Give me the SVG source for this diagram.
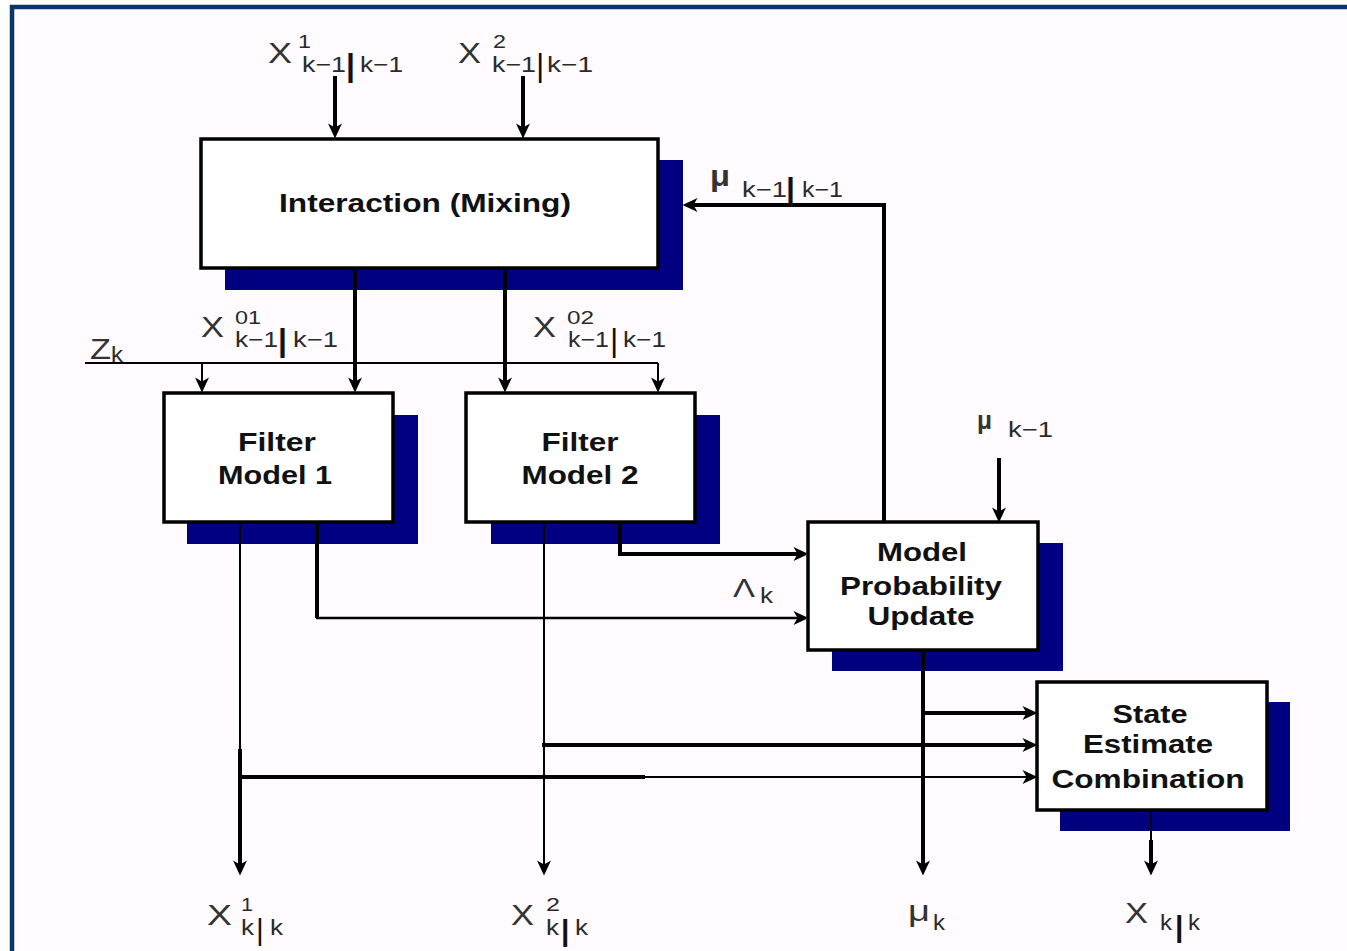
<svg xmlns="http://www.w3.org/2000/svg" width="1347" height="951" viewBox="0 0 1347 951">
<style>
.shadow{fill:#000080}
.box{fill:#ffffff;stroke:#000;stroke-width:3.5}
.lbl{font-family:"Liberation Sans",Arial,sans-serif;font-weight:bold;font-size:25px;fill:#111;text-anchor:middle}
.m{font-family:"Liberation Sans",Arial,sans-serif;font-size:30px;fill:#333}
.s{font-family:"Liberation Sans",Arial,sans-serif;font-size:22px;fill:#2a2a2a}
.sp{font-family:"Liberation Sans",Arial,sans-serif;font-size:19px;fill:#2a2a2a}
.bar{font-family:"Liberation Sans",Arial,sans-serif;font-size:32px;fill:#111}
.bb{font-weight:bold}
.thick{fill:none;stroke:#000;stroke-width:4}
.thin{fill:none;stroke:#000;stroke-width:2}
</style>
<defs>
<marker id="ah" markerUnits="userSpaceOnUse" viewBox="0 0 16 16" markerWidth="16" markerHeight="16" refX="11" refY="8" orient="auto">
<path d="M0.5,1 L15.5,8 L0.5,15 L4.5,8 z" fill="#000"/>
</marker>
</defs>
<rect x="0" y="0" width="1347" height="951" fill="#ffffff"/>
<rect x="12" y="7" width="1400" height="1000" fill="#fffbff" stroke="#0b3567" stroke-width="4.5"/>

<g id="interaction">
<rect class="shadow" x="225" y="160" width="458" height="130"/>
<rect class="box" x="201" y="139" width="457" height="129"/>
<text class="lbl" x="425" y="212" textLength="292" lengthAdjust="spacingAndGlyphs">Interaction (Mixing)</text>
</g>
<g id="filter1">
<rect class="shadow" x="187" y="415" width="231" height="129"/>
<rect class="box" x="164" y="393" width="229" height="129"/>
<text class="lbl" x="277" y="451" textLength="78" lengthAdjust="spacingAndGlyphs">Filter</text>
<text class="lbl" x="275" y="484" textLength="114" lengthAdjust="spacingAndGlyphs">Model 1</text>
</g>
<g id="filter2">
<rect class="shadow" x="491" y="415" width="229" height="129"/>
<rect class="box" x="466" y="393" width="229" height="129"/>
<text class="lbl" x="580" y="451" textLength="77" lengthAdjust="spacingAndGlyphs">Filter</text>
<text class="lbl" x="580" y="484" textLength="117" lengthAdjust="spacingAndGlyphs">Model 2</text>
</g>
<g id="mpu">
<rect class="shadow" x="832" y="543" width="231" height="128"/>
<rect class="box" x="808" y="522" width="230" height="128"/>
<text class="lbl" x="922" y="561" textLength="90" lengthAdjust="spacingAndGlyphs">Model</text>
<text class="lbl" x="921" y="595" textLength="162" lengthAdjust="spacingAndGlyphs">Probability</text>
<text class="lbl" x="921" y="625" textLength="107" lengthAdjust="spacingAndGlyphs">Update</text>
</g>
<g id="sec">
<rect class="shadow" x="1060" y="702" width="230" height="129"/>
<rect class="box" x="1037" y="682" width="230" height="128"/>
<text class="lbl" x="1150" y="723" textLength="75" lengthAdjust="spacingAndGlyphs">State</text>
<text class="lbl" x="1148" y="753" textLength="130" lengthAdjust="spacingAndGlyphs">Estimate</text>
<text class="lbl" x="1148" y="788" textLength="193" lengthAdjust="spacingAndGlyphs">Combination</text>
</g>

<g id="connectors">
<path class="thick" d="M335,76 V134" marker-end="url(#ah)"/>
<path class="thick" d="M523,76 V134" marker-end="url(#ah)"/>
<path class="thick" d="M355,268 V388" marker-end="url(#ah)"/>
<path class="thick" d="M505,268 V388" marker-end="url(#ah)"/>
<path class="thin" d="M85,363 H658"/>
<path class="thin" d="M202,363 V388" marker-end="url(#ah)"/>
<path class="thin" d="M658,363 V388" marker-end="url(#ah)"/>
<path class="thin" d="M240,522 V749"/>
<path class="thick" d="M240,749 V871" marker-end="url(#ah)"/>
<path class="thick" d="M317,522 V618"/>
<path class="thin" d="M316,618 H804" marker-end="url(#ah)" style="stroke-width:2.5"/>
<path class="thin" d="M544,522 V871" marker-end="url(#ah)"/>
<path class="thick" d="M620,522 V554 H804" marker-end="url(#ah)"/>
<path class="thick" d="M884,522 V205 H687" marker-end="url(#ah)"/>
<path class="thick" d="M999,458 V518" marker-end="url(#ah)"/>
<path class="thick" d="M923,650 V871" marker-end="url(#ah)"/>
<path class="thick" d="M923,713 H1033" marker-end="url(#ah)"/>
<path class="thick" d="M542,745 H1033" marker-end="url(#ah)"/>
<path class="thick" d="M240,777 H645"/>
<path class="thin" d="M645,777 H1033" marker-end="url(#ah)"/>
<path class="thin" d="M1151,810 V840"/>
<path class="thick" d="M1151,840 V871" marker-end="url(#ah)"/>
</g>

<g id="labels">
<text class="m" x="268" y="63" textLength="24" lengthAdjust="spacingAndGlyphs">X</text>
<text class="sp" x="298" y="48" textLength="13" lengthAdjust="spacingAndGlyphs">1</text>
<text class="s" x="302" y="72" textLength="44" lengthAdjust="spacingAndGlyphs">k−1</text>
<text class="bar bb" x="346" y="76">|</text>
<text class="s" x="360" y="72" textLength="43" lengthAdjust="spacingAndGlyphs">k−1</text>

<text class="m" x="458" y="63" textLength="23" lengthAdjust="spacingAndGlyphs">X</text>
<text class="sp" x="493" y="48" textLength="13" lengthAdjust="spacingAndGlyphs">2</text>
<text class="s" x="492" y="72" textLength="44" lengthAdjust="spacingAndGlyphs">k−1</text>
<text class="bar" x="536" y="76">|</text>
<text class="s" x="547" y="72" textLength="46" lengthAdjust="spacingAndGlyphs">k−1</text>

<text class="m" x="201" y="337" textLength="23" lengthAdjust="spacingAndGlyphs">X</text>
<text class="sp" x="235" y="324" textLength="26" lengthAdjust="spacingAndGlyphs">01</text>
<text class="s" x="235" y="347" textLength="43" lengthAdjust="spacingAndGlyphs">k−1</text>
<text class="bar bb" x="278" y="351">|</text>
<text class="s" x="293" y="347" textLength="45" lengthAdjust="spacingAndGlyphs">k−1</text>

<text class="m" x="533" y="337" textLength="23" lengthAdjust="spacingAndGlyphs">X</text>
<text class="sp" x="567" y="324" textLength="27" lengthAdjust="spacingAndGlyphs">02</text>
<text class="s" x="568" y="347" textLength="41" lengthAdjust="spacingAndGlyphs">k−1</text>
<text class="bar" x="610" y="351">|</text>
<text class="s" x="623" y="347" textLength="43" lengthAdjust="spacingAndGlyphs">k−1</text>

<text class="m" x="90" y="359" textLength="21" lengthAdjust="spacingAndGlyphs">Z</text>
<text class="s" x="111" y="362" textLength="12" lengthAdjust="spacingAndGlyphs">k</text>

<text class="m" x="733" y="597" style="font-size:25px" textLength="22" lengthAdjust="spacingAndGlyphs">Λ</text>
<text class="s" x="760" y="603" textLength="13" lengthAdjust="spacingAndGlyphs">k</text>

<text class="m bb" x="710" y="186" textLength="20" lengthAdjust="spacingAndGlyphs">μ</text>
<text class="s" x="742" y="197" textLength="45" lengthAdjust="spacingAndGlyphs">k−1</text>
<text class="bar bb" x="786" y="200">|</text>
<text class="s" x="802" y="197" textLength="41" lengthAdjust="spacingAndGlyphs">k−1</text>

<text class="m bb" x="977" y="429" style="font-size:26px" textLength="15" lengthAdjust="spacingAndGlyphs">μ</text>
<text class="s" x="1008" y="437" textLength="45" lengthAdjust="spacingAndGlyphs">k−1</text>

<text class="m" x="207" y="925" textLength="25" lengthAdjust="spacingAndGlyphs">X</text>
<text class="sp" x="241" y="911" textLength="12" lengthAdjust="spacingAndGlyphs">1</text>
<text class="s" x="241" y="935" textLength="13" lengthAdjust="spacingAndGlyphs">k</text>
<text class="bar" x="256" y="940" style="font-size:30px">|</text>
<text class="s" x="270" y="935" textLength="13" lengthAdjust="spacingAndGlyphs">k</text>

<text class="m" x="511" y="925" textLength="23" lengthAdjust="spacingAndGlyphs">X</text>
<text class="sp" x="546" y="911" textLength="14" lengthAdjust="spacingAndGlyphs">2</text>
<text class="s" x="546" y="935" textLength="13" lengthAdjust="spacingAndGlyphs">k</text>
<text class="bar bb" x="561" y="941" style="font-size:30px">|</text>
<text class="s" x="575" y="935" textLength="13" lengthAdjust="spacingAndGlyphs">k</text>

<text class="m" x="908" y="921" textLength="22" lengthAdjust="spacingAndGlyphs">μ</text>
<text class="s" x="933" y="930" textLength="12" lengthAdjust="spacingAndGlyphs">k</text>

<text class="m" x="1125" y="923" textLength="23" lengthAdjust="spacingAndGlyphs">X</text>
<text class="s" x="1160" y="930" textLength="12" lengthAdjust="spacingAndGlyphs">k</text>
<text class="bar bb" x="1175" y="937" style="font-size:30px">|</text>
<text class="s" x="1188" y="930" textLength="12" lengthAdjust="spacingAndGlyphs">k</text>
</g>
</svg>
